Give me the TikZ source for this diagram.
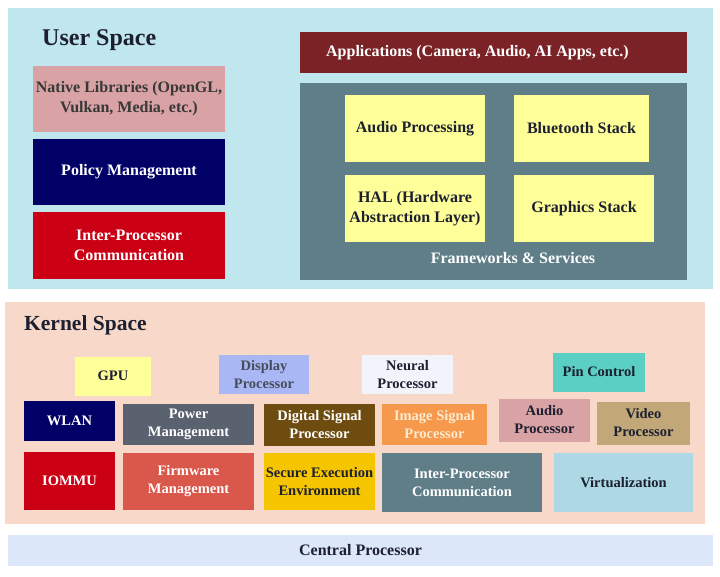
\documentclass[tikz,border=0pt]{standalone}
\usepackage{fontspec}
\setmainfont{Liberation Serif}
\definecolor{usbg}{HTML}{C0E6EE}
\definecolor{ksbg}{HTML}{F8D9C9}
\definecolor{cpubg}{HTML}{DDE7FA}
\definecolor{pinkc}{HTML}{D9A2A4}
\definecolor{navyc}{HTML}{000066}
\definecolor{redc}{HTML}{CC0014}
\definecolor{appc}{HTML}{7B2226}
\definecolor{slatec}{HTML}{5F7E88}
\definecolor{yelc}{HTML}{FFFF99}
\definecolor{lavc}{HTML}{A9B8F5}
\definecolor{whc}{HTML}{F3F4FB}
\definecolor{tealc}{HTML}{5CCFC4}
\definecolor{grayc}{HTML}{5A6270}
\definecolor{brownc}{HTML}{6E4B0E}
\definecolor{orc}{HTML}{F7994D}
\definecolor{tanc}{HTML}{C2A878}
\definecolor{coralc}{HTML}{D9574B}
\definecolor{goldc}{HTML}{F5C500}
\definecolor{lbc}{HTML}{ADD8E4}
\definecolor{darktxt}{HTML}{1C2030}
\definecolor{creamtxt}{HTML}{FDEBD0}
\begin{document}
\begin{tikzpicture}[x={(1pt,0)},y={(0,-1pt)},
  box/.style={rectangle,inner sep=0pt,align=center,font=\bfseries},
  ubox/.style={box,font=\fontsize{16}{20}\selectfont\bfseries},
  kbox/.style={box,font=\fontsize{14.5}{18}\selectfont\bfseries},
  title/.style={anchor=west,inner sep=0pt,text=darktxt},
  wh/.style={text=white},
  dk/.style={text=darktxt},
  sz/.style 2 args={minimum width=#1pt,minimum height=#2pt}]
\useasboundingbox (0,0) rectangle (720,576);
\fill[white] (0,0) rectangle (720,576);
% User space
\node[box,fill=usbg,sz={705}{281}] (us) at (360.5,148.5) {};
\node[title,font=\fontsize{24}{28}\selectfont\bfseries] (ust) at (42,40) {User Space};
\node[ubox,fill=pinkc,sz={192}{66},text=black!78] (native) at (129,99) {Native Libraries (OpenGL,\\Vulkan, Media, etc.)};
\node[ubox,fill=navyc,sz={192}{66},wh] (policy) at (129,172) {Policy Management};
\node[ubox,fill=redc,sz={192}{67},wh] (ipc1) at (129,245.5) {Inter-Processor\\Communication};
\node[box,fill=appc,sz={387}{41}] (apps) at (493.5,52.5) {};
\node[ubox,wh] (appst) at (477.5,52.5) {Applications (Camera, Audio, AI Apps, etc.)};
\node[box,fill=slatec,sz={387}{197}] (fw) at (493.5,181.5) {};
\node[ubox,fill=yelc,sz={140}{67},dk] (audio) at (415,128.5) {Audio Processing};
\node[ubox,fill=yelc,sz={135}{67},dk] (bt) at (581.5,128.5) {Bluetooth Stack};
\node[ubox,fill=yelc,sz={140}{67},dk] (hal) at (415,208.5) {HAL (Hardware\\Abstraction Layer)};
\node[ubox,fill=yelc,sz={140}{67},dk] (gfx) at (584,208.5) {Graphics Stack};
\node[ubox,wh] (fwl) at (513,258) {Frameworks \& Services};
% Kernel space
\node[box,fill=ksbg,sz={700}{222}] (ks) at (355,413) {};
\node[title,font=\fontsize{21.5}{26}\selectfont\bfseries] (kst) at (24,325) {Kernel Space};
\node[kbox,fill=yelc,sz={76}{39},dk] (gpu) at (113,376) {GPU};
\node[kbox,fill=lavc,sz={90}{39},text=darktxt!80] (disp) at (264,374.5) {Display\\Processor};
\node[kbox,fill=whc,sz={91}{39},dk] (neural) at (407.5,374.5) {Neural\\Processor};
\node[kbox,fill=tealc,sz={92}{39},dk] (pin) at (599,372) {Pin Control};
\node[kbox,fill=navyc,sz={91}{40},wh] (wlan) at (69.5,421) {WLAN};
\node[kbox,fill=grayc,sz={131}{41},wh] (power) at (188.5,424.5) {Power\\Management};
\node[kbox,fill=brownc,sz={111}{42},wh] (dsp) at (319.5,425) {Digital Signal\\Processor};
\node[kbox,fill=orc,sz={105}{41},text=creamtxt] (isp) at (434.5,424.5) {Image Signal\\Processor};
\node[kbox,fill=pinkc,sz={91}{43},dk] (aproc) at (544.5,420) {Audio\\Processor};
\node[kbox,fill=tanc,sz={93}{43},dk] (vproc) at (643.5,423) {Video\\Processor};
\node[kbox,fill=redc,sz={91}{58},wh] (iommu) at (69.5,481) {IOMMU};
\node[kbox,fill=coralc,sz={131}{57},wh] (fwm) at (188.5,481.5) {Firmware\\Management};
\node[kbox,fill=goldc,sz={111}{57},dk] (see) at (319.5,481.5) {Secure Execution\\Environment};
\node[kbox,fill=slatec,sz={160}{59},wh] (ipc2) at (462,482.5) {Inter-Processor\\Communication};
\node[kbox,fill=lbc,sz={139}{59},dk] (virt) at (623.5,482.5) {Virtualization};
% Central processor
\node[box,fill=cpubg,sz={705}{31},dk,font=\fontsize{16}{19}\selectfont\bfseries] (cpu) at (360.5,550.5) {Central Processor};
\end{tikzpicture}
\end{document}
